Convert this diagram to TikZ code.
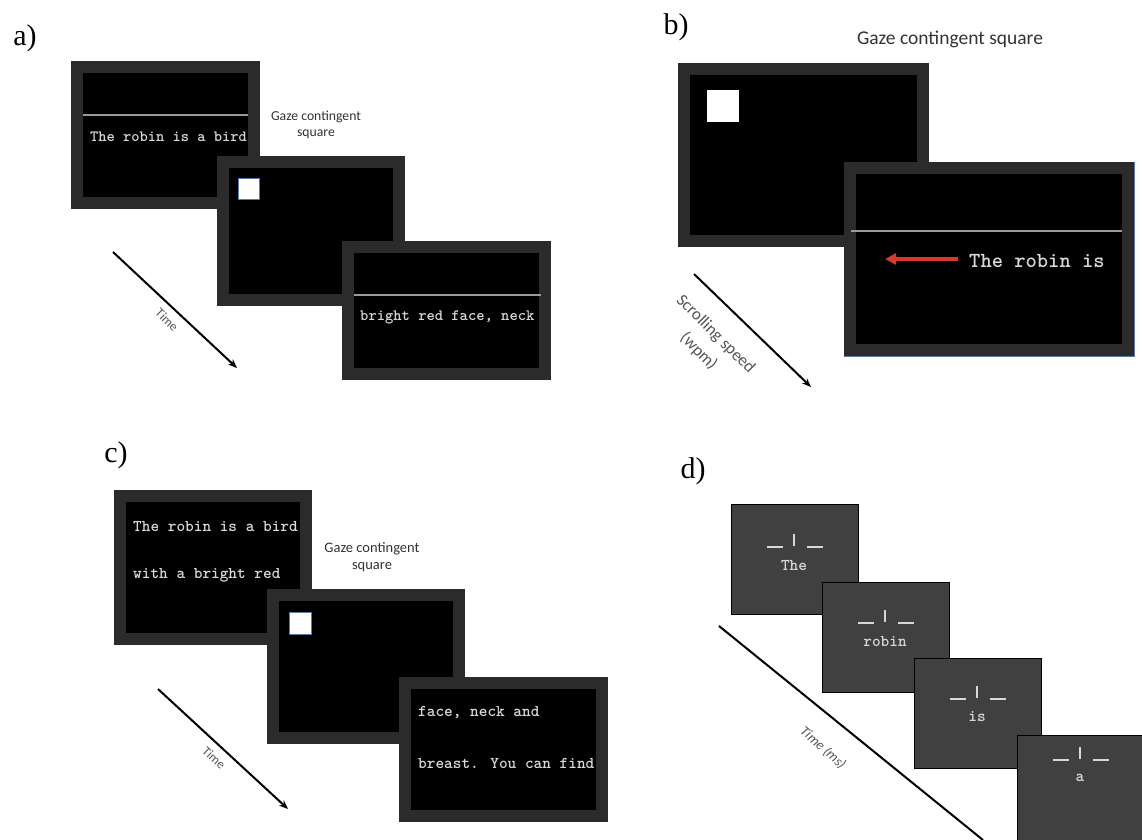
\documentclass[tikz,border=0pt]{standalone}
\usepackage{fontspec}
\setmainfont{Liberation Serif}
\setsansfont{Carlito}
\usetikzlibrary{arrows.meta}
\definecolor{rim}{HTML}{2B2B2B}
\definecolor{slate}{HTML}{404040}
\definecolor{chalk}{HTML}{D8D8D8}
\definecolor{rulegray}{HTML}{9A9A9A}
\definecolor{scrollred}{HTML}{D9382B}
\definecolor{caption}{HTML}{333333}
\definecolor{axislabel}{HTML}{555555}
\definecolor{steel}{HTML}{5A78A8}
\tikzset{
  screen/.style={fill=black, draw=rim, line width=12pt, inner sep=0pt},
  flash/.style={fill=slate, draw=black, line width=1pt, inner sep=0pt,
    minimum width=127pt, minimum height=110pt},
  words/.style={text=chalk, inner sep=0pt, anchor=west,
    font=\fontsize{#1}{#1}\selectfont\ttfamily\bfseries},
  panel/.style={inner sep=0pt, font=\fontsize{30}{34}\selectfont},
  gaze/.style={text=caption, inner sep=0pt, align=center,
    font=\fontsize{#1}{#1}\selectfont\sffamily},
  timeline/.style={line width=2pt, -{Stealth[length=9pt,width=7pt]}},
  timelabel/.style={text=axislabel, inner sep=0pt, align=center,
    font=\fontsize{#1}{#1}\selectfont\sffamily},
  fixation/.style={fill=white, draw=steel, line width=0.8pt},
  cross/.style={draw=chalk, line width=1.5pt}
}
\begin{document}
\begin{tikzpicture}[x=1pt, y=-1pt]
    \useasboundingbox (0,0) rectangle (1142,839);
    % Panel a
    \node[panel] (la) at (25,38) {a)};
    \node[screen, minimum width=177pt, minimum height=136pt] (a1) at (165.5,135) {};
    \draw[rulegray, line width=1.2pt] (83,115) -- (248,115);
    \node[words=15.7] (a1t) at (90,137) {The robin is a bird};
    \node[gaze=13.7] (ag) at (316,125) {Gaze contingent\\[2pt]square};
    \node[screen, minimum width=176pt, minimum height=138pt] (a2) at (311,231) {};
    \draw[fixation] (238,178) rectangle (259,199);
    \node[screen, minimum width=197pt, minimum height=127pt] (a3) at (446.5,310.5) {};
    \draw[rulegray, line width=1.2pt] (354,295) -- (541,295);
    \node[words=15.8] (a3t) at (360,317) {bright red face, neck};
    % Time axis a
    \coordinate (ta0) at (113,252);
    \coordinate (ta1) at (237,368);
    \draw[timeline] (ta0) -- (ta1);
    \node[timelabel=13, rotate=-45] (tal) at (167,320) {Time};

    % Panel b
    \node[panel] (lb) at (676,27) {b)};
    \node[gaze=19.5] (bg) at (950,39) {Gaze contingent square};
    \node[screen, minimum width=239pt, minimum height=172pt] (b1) at (803.5,155) {};
    \draw[fixation, draw=white] (707,90) rectangle (738,121);
    \node[screen, minimum width=278pt, minimum height=182pt] (b2) at (989,259) {};
    \draw[steel, line width=0.8pt] (844,356) -- (1134,356) -- (1134,162);
    \draw[rulegray, line width=1.5pt] (851,231) -- (1122,231);
    \coordinate (rs) at (958,259);
    \coordinate (re) at (885,259);
    \draw[scrollred, line width=4pt, -{Triangle[length=11pt,width=11pt]}] (rs) -- (re);
    \node[words=21.5] (b2t) at (969,261) {The robin is};
    % Scrolling axis b
    \coordinate (tb0) at (694,274);
    \coordinate (tb1) at (811,387);
    \draw[timeline] (tb0) -- (tb1);
    \node[timelabel=17, rotate=-45] (tbl) at (707,343) {Scrolling speed\\[7pt](wpm)};

    % Panel c
    \node[panel] (lc) at (116,455) {c)};
    \node[screen, minimum width=186pt, minimum height=143pt] (c1) at (213,567.5) {};
    \node[words=16.5] (c1t) at (133,526) {The robin is a bird};
    \node[words=16.5] (c1u) at (133,575) {with a bright red};
    \node[gaze=14.5] (cg) at (372,557) {Gaze contingent\\[2pt]square};
    \node[screen, minimum width=186pt, minimum height=143pt] (c2) at (366,666.5) {};
    \draw[fixation] (289,612) rectangle (311,634);
    \node[screen, minimum width=197pt, minimum height=133pt] (c3) at (503.5,749.5) {};
    \node[words=16.5] (c3t) at (418,713) {face, neck and};
    \node[words=16.5] (c3u) at (418,763) {breast. You can find};
    % Time axis c
    \coordinate (tc0) at (158,689);
    \coordinate (tc1) at (288,809);
    \draw[timeline] (tc0) -- (tc1);
    \node[timelabel=13, rotate=-43] (tcl) at (214,758) {Time};

    % Panel d
    \node[panel] (ld) at (693,471) {d)};
    \foreach \cx/\cy/\fx/\fy/\word/\n in {794.5/559.5/794/547/The/1, 885.5/637/885/623/robin/2,
        977.5/713/977/699/is/3, 1080.5/790/1080/760/a/4} {
        \node[flash] (d\n) at (\cx,\cy) {};
        \draw[cross] (\fx-27,\fy) -- (\fx-11,\fy);
        \draw[cross] (\fx+13,\fy) -- (\fx+29,\fy);
        \draw[cross] (\fx,\fy-13) -- (\fx,\fy-1);
        \node[words=16.5, anchor=center] (dw\n) at (\fx,\fy+18) {\word};
    }
    % Time axis d
    \coordinate (td0) at (719,626);
    \coordinate (td1) at (983,840);
    \draw[line width=2pt] (td0) -- (td1);
    \node[timelabel=14, rotate=-42, font=\fontsize{14}{14}\selectfont\sffamily\itshape] (tdl) at (823,748) {Time (ms)};
\end{tikzpicture}
\end{document}
